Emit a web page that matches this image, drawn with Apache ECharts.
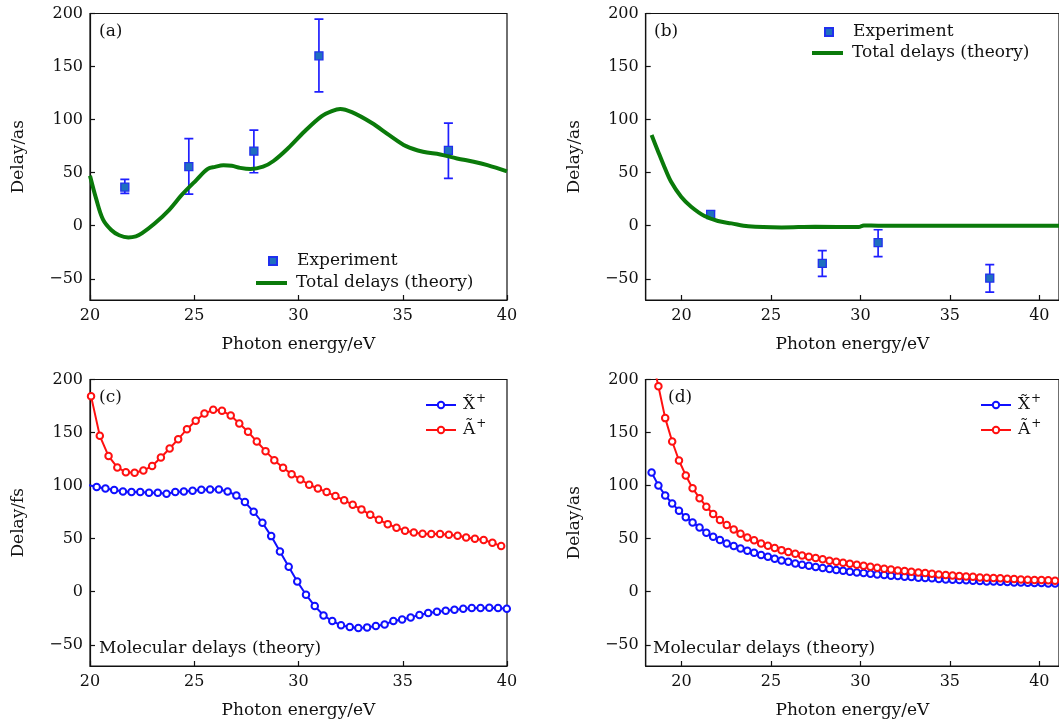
<!DOCTYPE html>
<html>
<head>
<meta charset="utf-8">
<script src="https://cdn.jsdelivr.net/npm/echarts@6/dist/echarts.min.js"></script>
<style>
html,body{margin:0;padding:0;background:#fff;}
#chart{width:1059px;height:724px;}
</style>
</head>
<body>
<div id="chart"></div>
<script>
// ---------- data ----------
const yTicks = [-50, 0, 50, 100, 150, 200];
const xTicks = [20, 25, 30, 35, 40];

// (a) experiment
const aExpX = [21.67, 24.74, 27.86, 30.98, 37.19];
const aExpY = [36.4, 55.6, 70.3, 160.1, 71.0];
const aExpLo = [30.5, 29.8, 49.9, 126.2, 44.6];
const aExpHi = [43.6, 82.0, 90.1, 194.7, 96.7];
// (a) theory
const aThX = [20, 20.3, 20.62, 21.02, 21.4, 21.84, 22.2, 22.5, 23.1, 23.8, 24.4, 25.1, 25.65, 26.0, 26.4, 26.8, 27.2, 27.7, 28.3, 28.8, 29.5, 30.3, 31.1, 31.6, 32.0, 32.56, 33.5, 34.35, 35.16, 35.97, 36.8, 37.6, 38.4, 39.06, 40];
const aThY = [47, 25, 6, -4, -9, -11, -10, -7, 2, 15, 29, 43, 53.5, 55.5, 57, 56.5, 54.5, 53.4, 55.6, 61, 73, 89, 103, 108, 110, 107, 97, 85.4, 75, 69.7, 67.2, 63.4, 60.3, 57.1, 51.2];

// (b) experiment
const bExpX = [21.63, 27.87, 30.99, 37.23];
const bExpY = [10.7, -35.5, -16.0, -49.3];
const bExpLo = [6.9, -47.7, -29.2, -62.5];
const bExpHi = [14.1, -23.5, -3.8, -36.7];
// (b) theory
const bThX = [18.33, 18.67, 19.04, 19.42, 19.98, 20.54, 21.29, 22.04, 22.79, 23.73, 25.6, 27.47, 29.9, 30.19, 31.0, 35.0, 41.1];
const bThY = [85.4, 71, 55.6, 41.4, 27.3, 17.9, 9.1, 4.4, 2.2, -0.6, -1.6, -1.0, -1.3, 0.3, 0, 0, 0];

// (c) molecular delays
const cXX = [19.90, 20.32, 20.74, 21.16, 21.58, 21.99, 22.41, 22.83, 23.25, 23.67, 24.09, 24.50, 24.92, 25.34, 25.76, 26.18, 26.60, 27.02, 27.43, 27.85, 28.27, 28.69, 29.11, 29.53, 29.94, 30.36, 30.78, 31.20, 31.62, 32.04, 32.46, 32.87, 33.29, 33.71, 34.13, 34.55, 34.97, 35.38, 35.80, 36.22, 36.64, 37.06, 37.48, 37.90, 38.31, 38.73, 39.15, 39.57, 39.99];
const cXY = [100.5, 98.6, 97.3, 95.8, 94.5, 93.9, 93.9, 93.2, 93.2, 92.3, 93.9, 94.5, 95.1, 96.1, 96.4, 96.4, 94.5, 90.7, 84.5, 75.4, 65.0, 52.4, 38.0, 23.5, 9.7, -2.8, -13.5, -22.3, -27.6, -31.7, -33.3, -34.2, -33.6, -32.3, -30.8, -27.6, -26.1, -24.2, -22.0, -20.1, -18.8, -17.9, -17.0, -16.0, -15.4, -15.4, -15.1, -15.4, -16.0];
const cAX = [20.05, 20.47, 20.89, 21.31, 21.72, 22.14, 22.56, 22.98, 23.40, 23.82, 24.23, 24.65, 25.07, 25.49, 25.91, 26.33, 26.75, 27.16, 27.58, 28.00, 28.42, 28.84, 29.26, 29.67, 30.09, 30.51, 30.93, 31.35, 31.77, 32.19, 32.60, 33.02, 33.44, 33.86, 34.28, 34.70, 35.11, 35.53, 35.95, 36.37, 36.79, 37.21, 37.63, 38.04, 38.46, 38.88, 39.30, 39.72];
const cAY = [184.3, 146.9, 127.8, 117.1, 112.7, 112.1, 114.3, 118.4, 126.5, 135.0, 143.8, 153.2, 161.1, 168.0, 171.4, 170.5, 166.1, 158.6, 150.7, 141.6, 132.5, 124.0, 116.8, 110.8, 105.8, 100.8, 97.3, 93.9, 90.1, 86.3, 81.9, 77.6, 72.5, 67.8, 63.7, 60.3, 57.5, 55.9, 54.6, 54.3, 54.3, 53.7, 52.7, 51.2, 49.9, 48.7, 46.2, 43.0];

// (d) molecular delays
const dX = [18.33, 18.71, 19.09, 19.48, 19.86, 20.24, 20.62, 21.01, 21.39, 21.77, 22.15, 22.53, 22.92, 23.30, 23.68, 24.06, 24.45, 24.83, 25.21, 25.59, 25.97, 26.36, 26.74, 27.12, 27.50, 27.89, 28.27, 28.65, 29.03, 29.41, 29.80, 30.18, 30.56, 30.94, 31.33, 31.71, 32.09, 32.47, 32.85, 33.24, 33.62, 34.00, 34.38, 34.77, 35.15, 35.53, 35.91, 36.29, 36.68, 37.06, 37.44, 37.82, 38.21, 38.59, 38.97, 39.35, 39.73, 40.12, 40.50, 40.88];
const dXY = [112.4, 100.2, 90.7, 83.2, 76.3, 70.3, 65.3, 60.6, 55.6, 51.8, 48.7, 45.5, 43.0, 40.8, 38.6, 36.7, 34.5, 33.0, 31.1, 29.5, 28.3, 26.7, 25.4, 24.5, 23.2, 22.3, 21.4, 20.4, 19.8, 18.8, 18.2, 17.6, 17.0, 16.3, 15.7, 15.1, 14.8, 14.1, 13.8, 13.2, 12.9, 12.6, 11.9, 11.6, 11.3, 11.0, 10.7, 10.4, 10.0, 9.7, 9.7, 9.4, 9.1, 8.8, 8.8, 8.5, 8.2, 8.2, 7.8, 7.8];
const dAY = [222, 193.7, 163.6, 141.6, 123.7, 109.6, 97.6, 88.2, 80.1, 73.2, 67.5, 62.8, 58.7, 54.6, 51.2, 48.4, 45.5, 43.3, 41.1, 39.2, 37.4, 35.8, 34.2, 33.0, 31.7, 30.5, 29.2, 28.3, 27.3, 26.4, 25.4, 24.5, 23.5, 22.6, 21.7, 21.0, 20.1, 19.5, 18.8, 18.2, 17.6, 17.0, 16.3, 15.7, 15.4, 14.8, 14.4, 14.1, 13.5, 13.2, 12.9, 12.6, 12.2, 11.9, 11.6, 11.3, 11.0, 11.0, 10.7, 10.4];

// ---------- helpers ----------
const FONT = 'DejaVu Serif';
const zip = (xs, ys) => xs.map((x, i) => [x, ys[i]]);
const fmtY = v => (v < 0 ? '\u2212' + Math.abs(v) : String(v));

const grids = [
  {left: 90, top: 13.5, width: 417, height: 286.5},
  {left: 645.7, top: 13.5, width: 417, height: 286.5},
  {left: 90, top: 379.5, width: 417, height: 286.5},
  {left: 645.7, top: 379.5, width: 417, height: 286.5}
].map(g => Object.assign(g, {show: true, borderColor: '#111', borderWidth: 1.2, backgroundColor: 'transparent'}));

const xRanges = [[20, 40], [18, 41.1], [20, 40], [18, 41.1]];
const yNames = ['Delay/as', 'Delay/as', 'Delay/fs', 'Delay/as'];

const xAxes = xRanges.map((r, i) => ({
  type: 'value', gridIndex: i, min: r[0], max: r[1],
  name: 'Photon energy/eV', nameLocation: 'middle', nameGap: 36,
  nameTextStyle: {fontFamily: FONT, fontSize: 17, color: '#111'},
  axisLine: {show: true, onZero: false, lineStyle: {color: '#111', width: 1.2}},
  axisTick: {show: true, inside: true, length: 5, customValues: xTicks, lineStyle: {color: '#111', width: 1.2}},
  axisLabel: {show: true, margin: 8, customValues: xTicks, fontFamily: FONT, fontSize: 16, color: '#111', formatter: v => String(v)},
  splitLine: {show: false}
}));
const yAxes = yNames.map((n, i) => ({
  type: 'value', gridIndex: i, min: -70, max: 200,
  name: n, nameLocation: 'middle', nameGap: 63, nameRotate: 90,
  nameTextStyle: {fontFamily: FONT, fontSize: 17, color: '#111'},
  axisLine: {show: true, onZero: false, lineStyle: {color: '#111', width: 1.2}},
  axisTick: {show: true, inside: true, length: 5, customValues: yTicks, lineStyle: {color: '#111', width: 1.2}},
  axisLabel: {show: true, margin: 7, customValues: yTicks, fontFamily: FONT, fontSize: 16, color: '#111', formatter: fmtY},
  splitLine: {show: false}
}));

function errRender(params, api) {
  const x = api.value(0), lo = api.value(1), hi = api.value(2);
  const p1 = api.coord([x, lo]), p2 = api.coord([x, hi]);
  const cap = 4.5;
  const st = {stroke: '#1f1fff', lineWidth: 1.7};
  return {type: 'group', children: [
    {type: 'line', shape: {x1: p1[0], y1: p1[1], x2: p2[0], y2: p2[1]}, style: st},
    {type: 'line', shape: {x1: p1[0] - cap, y1: p1[1], x2: p1[0] + cap, y2: p1[1]}, style: st},
    {type: 'line', shape: {x1: p2[0] - cap, y1: p2[1], x2: p2[0] + cap, y2: p2[1]}, style: st}
  ]};
}
function errSeries(idx, xs, lo, hi) {
  return {type: 'custom', name: 'err' + idx, xAxisIndex: idx, yAxisIndex: idx,
    renderItem: errRender, encode: {x: 0, y: [1, 2]}, clip: true, z: 2,
    data: xs.map((x, i) => [x, lo[i], hi[i]])};
}
function expSeries(idx, xs, ys) {
  return {type: 'scatter', name: 'Experiment', xAxisIndex: idx, yAxisIndex: idx,
    symbol: 'rect', symbolSize: 8, z: 3,
    itemStyle: {color: '#1f6fbf', borderColor: '#2030ee', borderWidth: 1.3, opacity: 1},
    data: zip(xs, ys)};
}
function theorySeries(idx, xs, ys) {
  return {type: 'line', name: 'Total delays (theory)', xAxisIndex: idx, yAxisIndex: idx,
    showSymbol: false, symbol: 'none', smooth: 0.35, clip: true, z: 4,
    lineStyle: {color: '#0a7a0a', width: 4}, itemStyle: {color: '#0a7a0a'},
    data: zip(xs, ys)};
}
function molSeries(idx, name, xs, ys, color) {
  return {type: 'line', name: name, xAxisIndex: idx, yAxisIndex: idx,
    symbol: 'emptyCircle', symbolSize: 6.5, showAllSymbol: true, clip: true,
    lineStyle: {color: color, width: 2}, itemStyle: {color: color, borderColor: color, borderWidth: 1.8},
    data: zip(xs, ys)};
}

const NX = 'X\u0303+', NA = '\u00C3+';
const richLeg = {
  b: {fontFamily: FONT, fontSize: 17, color: '#111'},
  s: {fontFamily: FONT, fontSize: 12, color: '#111', verticalAlign: 'bottom', padding: [0, 0, 9, 1]}
};
const molFmt = n => (n === NX ? '{b|X\u0303}{s|+}' : '{b|\u00C3}{s|+}');
const legText = pad => ({fontFamily: FONT, fontSize: 17, color: '#111', lineHeight: 18, padding: [0, 0, 0, pad]});

// legend for experiment: small square icon; theory: thick line icon
function legendExp(left, top) {
  return {left: left, top: top, padding: 0, orient: 'vertical', itemWidth: 8, itemHeight: 8,
    data: [{name: 'Experiment', icon: 'rect'}], textStyle: legText(15)};
}
function legendTh(left, top) {
  return {left: left, top: top, padding: 0, orient: 'vertical', itemWidth: 31, itemHeight: 4,
    data: [{name: 'Total delays (theory)', icon: 'rect'}], textStyle: legText(4)};
}
function legendCD(left, top) {
  return {left: left, top: top, padding: 0, orient: 'vertical', itemWidth: 30, itemHeight: 8, itemGap: 4,
    data: [NX, NA], formatter: molFmt,
    textStyle: {fontFamily: FONT, fontSize: 17, color: '#111', lineHeight: 18, padding: [0, 0, 0, 2], rich: richLeg}};
}

function label(x, y, text) {
  return {type: 'text', x: x, y: y, style: {text: text, fontFamily: FONT, fontSize: 17, fill: '#111', verticalAlign: 'middle'}};
}

const option = {
  backgroundColor: '#fff',
  animation: false,
  grid: grids,
  xAxis: xAxes,
  yAxis: yAxes,
  legend: [
    legendExp(268, 252), legendTh(256, 274),
    legendExp(824, 23), legendTh(812, 44),
    legendCD(425, 393), legendCD(980, 393)
  ],
  graphic: [
    label(99, 32, '(a)'), label(654, 32, '(b)'), label(99, 398, '(c)'), label(668, 398, '(d)'),
    label(99, 649, 'Molecular delays (theory)'), label(653, 649, 'Molecular delays (theory)')
  ],
  series: [
    errSeries(0, aExpX, aExpLo, aExpHi), expSeries(0, aExpX, aExpY), theorySeries(0, aThX, aThY),
    errSeries(1, bExpX, bExpLo, bExpHi), expSeries(1, bExpX, bExpY), theorySeries(1, bThX, bThY),
    molSeries(2, NX, cXX, cXY, '#1010ff'), molSeries(2, NA, cAX, cAY, '#ff1010'),
    molSeries(3, NX, dX, dXY, '#1010ff'), molSeries(3, NA, dX, dAY, '#ff1010')
  ]
};

const chart = echarts.init(document.getElementById('chart'), null, {renderer: 'canvas'});
chart.setOption(option);
</script>
</body>
</html>
